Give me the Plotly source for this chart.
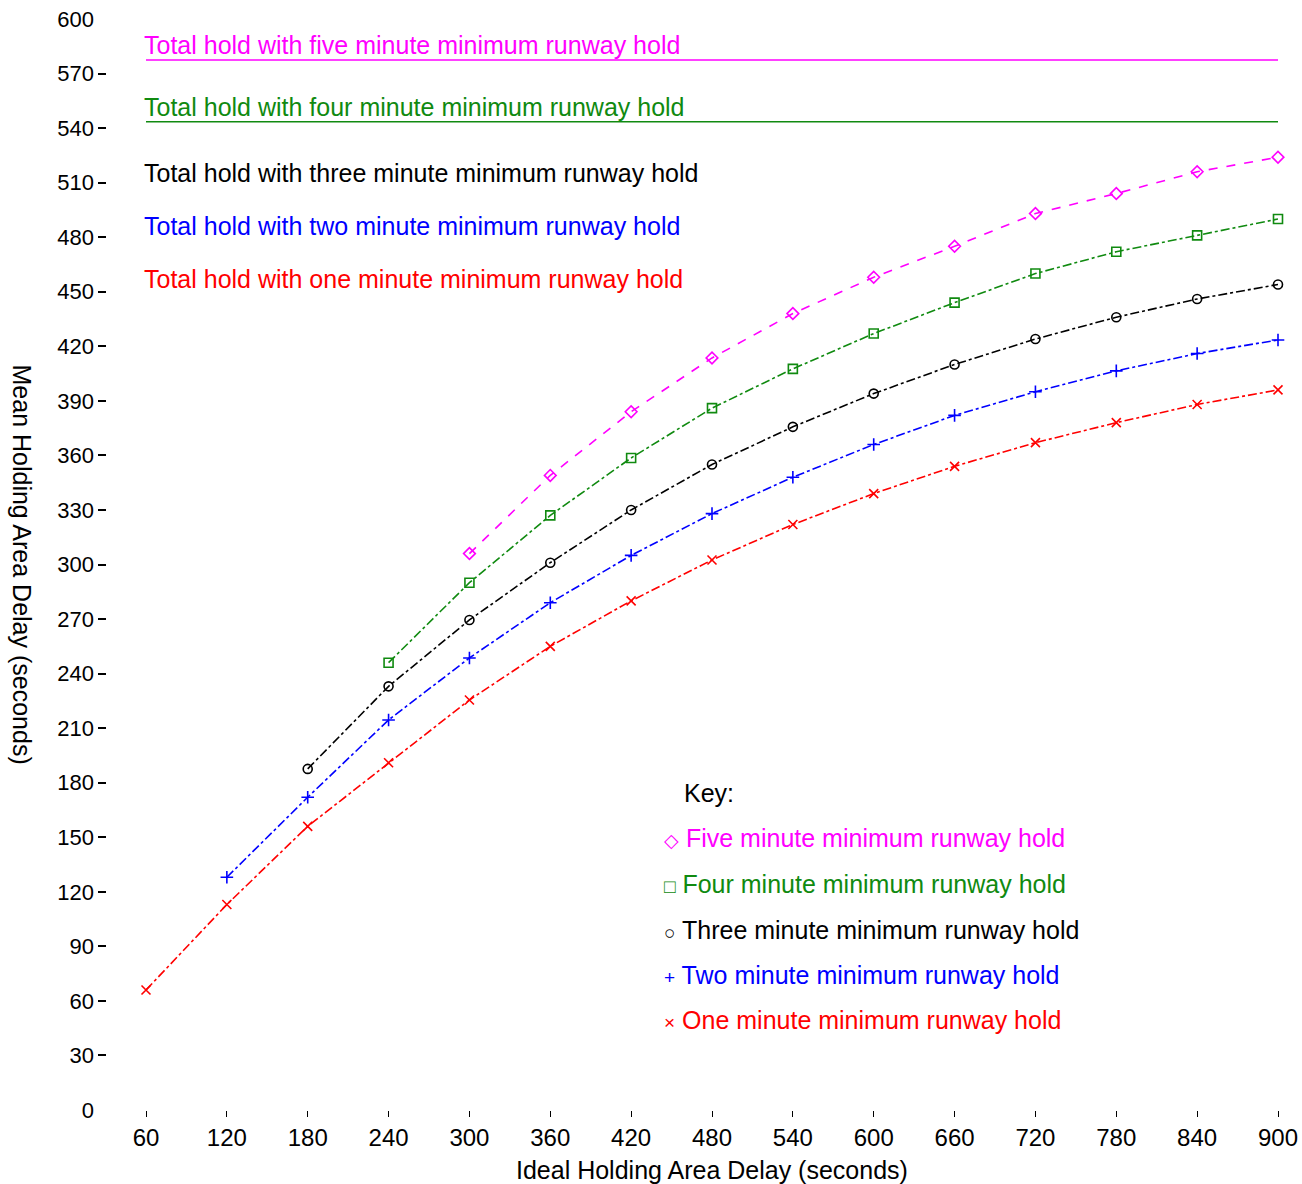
import plotly.graph_objects as go

x_all = [60, 120, 180, 240, 300, 360, 420, 480, 540, 600, 660, 720, 780, 840, 900]

one_x = x_all
one_y = [66, 113, 156, 191, 225.5, 255, 280, 302.5, 322, 339, 354, 367, 378, 388, 396]
two_x = x_all[1:]
two_y = [128, 172, 214.5, 248.6, 279, 305, 328, 348, 366, 382, 395, 406.5, 416, 423.5]
three_x = x_all[2:]
three_y = [187.6, 233, 269.5, 301, 330, 355, 375.7, 394, 410, 424, 436, 446, 454]
four_x = x_all[3:]
four_y = [246, 290, 327, 358.6, 386, 407.6, 427, 444, 460, 472, 481, 490]
five_x = x_all[4:]
five_y = [306, 349, 384, 413.6, 438, 458, 475, 493, 504, 516, 524]

total_hold_values = [577.5, 543.5]  # five, four minute total-hold lines

y_ticks = list(range(0, 601, 30))
x_ticks = list(range(60, 901, 60))

FONT = "Liberation Sans, Arial, sans-serif"
MAG, GRN, BLK, BLU, RED = "#ff00ff", "#108a10", "#000000", "#0000ff", "#ff0000"
TXT = 25

series = [
    ("Five minute minimum runway hold", five_x, five_y, MAG, "diamond-open", "dash"),
    ("Four minute minimum runway hold", four_x, four_y, GRN, "square-open", "dashdot"),
    ("Three minute minimum runway hold", three_x, three_y, BLK, "circle-open", "dashdot"),
    ("Two minute minimum runway hold", two_x, two_y, BLU, "cross-thin-open", "dashdot"),
    ("One minute minimum runway hold", one_x, one_y, RED, "x-thin-open", "dashdot"),
]

fig = go.Figure()
for name, xs, ys, col, sym, dash in series:
    fig.add_trace(go.Scatter(
        x=xs, y=ys, mode="lines+markers", name=name,
        line=dict(color=col, width=1.6, dash=dash),
        marker=dict(symbol=sym, size=9, color=col, line=dict(color=col, width=1.6)),
        cliponaxis=False, showlegend=False,
    ))

for val, col in zip(total_hold_values, [MAG, GRN]):
    fig.add_hline(y=val, line=dict(color=col, width=1.5))

# Total hold labels
total_labels = [
    ("Total hold with five minute minimum runway hold", 585.8, MAG),
    ("Total hold with four minute minimum runway hold", 551.7, GRN),
    ("Total hold with three minute minimum runway hold", 515.4, BLK),
    ("Total hold with two minute minimum runway hold", 486.3, BLU),
    ("Total hold with one minute minimum runway hold", 457.1, RED),
]
for txt, yv, col in total_labels:
    fig.add_annotation(x=60, y=yv, xref="x", yref="y", text=txt, showarrow=False,
                       xanchor="left", yanchor="middle", xshift=-4,
                       font=dict(color=col, size=TXT, family=FONT))

# Key
fig.add_annotation(x=458, y=174.4, xref="x", yref="y", text="Key:", showarrow=False,
                   xanchor="left", yanchor="middle", font=dict(color=BLK, size=TXT, family=FONT))
key_items = [
    ("◇", "Five minute minimum runway hold", 149.6, MAG),
    ("□", "Four minute minimum runway hold", 124.3, GRN),
    ("○", "Three minute minimum runway hold", 99.0, BLK),
    ("+", "Two minute minimum runway hold", 74.3, BLU),
    ("×", "One minute minimum runway hold", 49.5, RED),
]
for sym, txt, yv, col in key_items:
    fig.add_annotation(x=443, y=yv, xref="x", yref="y",
                       text=f"<span style='font-size:19px'>{sym}</span> {txt}", showarrow=False,
                       xanchor="left", yanchor="middle", font=dict(color=col, size=TXT, family=FONT))

L, R, T, B = 97, 24, 19, 74
W, H = 1302, 1184
pw = W - L - R
dom0 = (146 - L) / pw

fig.add_annotation(x=(22 - L) / pw, y=0.5, xref="paper", yref="paper",
                   text="Mean Holding Area Delay (seconds)", textangle=90, showarrow=False,
                   xanchor="center", yanchor="middle", font=dict(size=TXT, family=FONT, color=BLK))
fig.add_annotation(x=(dom0 + 1) / 2, y=-(1170 - 1110) / (H - T - B), xref="paper", yref="paper",
                   text="Ideal Holding Area Delay (seconds)", showarrow=False,
                   xanchor="center", yanchor="middle", font=dict(size=TXT, family=FONT, color=BLK))

fig.update_layout(
    width=W, height=H,
    margin=dict(l=L, r=R, t=T, b=B),
    plot_bgcolor="white", paper_bgcolor="white",
    font=dict(family=FONT, size=22, color=BLK),
    xaxis=dict(range=[60, 900], domain=[dom0, 1], tickvals=x_ticks, showgrid=False, zeroline=False,
               showline=False, ticks="outside", ticklen=6, tickcolor=BLK, tickwidth=1,
               automargin=False, ticklabeloverflow="allow",
               tickfont=dict(size=24, family=FONT)),
    yaxis=dict(range=[0, 600], tickvals=y_ticks, showgrid=False, zeroline=False, showline=False,
               anchor="free", position=0, ticks="inside", ticklen=8, tickcolor=BLK, tickwidth=2,
               automargin=False, ticklabeloverflow="allow",
               ticklabelstandoff=3, tickfont=dict(size=22, family=FONT)),
)

fig.write_html("out.html", config={"displayModeBar": False},
               post_script="document.body.style.margin='0';document.body.style.overflow='hidden';")
